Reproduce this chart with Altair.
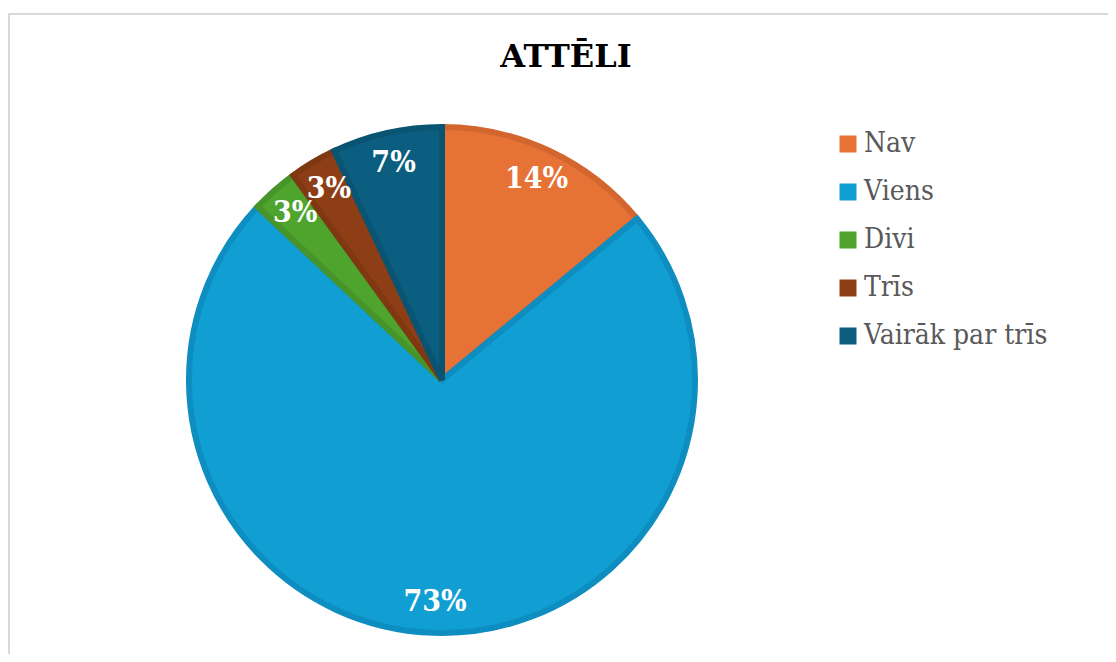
import altair as alt
import pandas as pd

categories = ["Nav", "Viens", "Divi", "Trīs", "Vairāk par trīs"]
values = [14, 73, 3, 3, 7]
labels = ["14%", "73%", "3%", "3%", "7%"]
fill_colors = ["#E67236", "#109ED3", "#4EA42D", "#8E3E14", "#0B5E80"]
stroke_colors = ["#D3662F", "#0E8DC0", "#46942A", "#803812", "#0A5473"]
title_text = "ATTĒLI"

SERIF = "DejaVu Serif"
SERIF_COND = "'DejaVu Serif Condensed', 'DejaVu Serif'"

df = pd.DataFrame({
    "kat": categories,
    "val": values,
    "lbl": labels,
    "ord": list(range(len(categories))),
    "sc": stroke_colors,
})

W, H = 1100, 646
CX, CY = 434, 372
R = 253

base = alt.Chart(df).encode(
    theta=alt.Theta("val:Q", stack=True),
    order=alt.Order("ord:Q", sort="ascending"),
)

arcs = base.mark_arc(outerRadius=R, strokeWidth=6, strokeJoin="miter").encode(
    x=alt.value(CX),
    y=alt.value(CY),
    color=alt.Color(
        "kat:N",
        scale=alt.Scale(domain=categories, range=fill_colors),
        sort=categories,
        legend=alt.Legend(
            title=None,
            orient="none",
            legendX=826,
            legendY=122,
            symbolType="square",
            symbolSize=289,
            symbolStrokeWidth=0,
            labelFont=SERIF_COND,
            labelFontSize=28,
            labelColor="#595959",
            labelOffset=2,
            labelLimit=400,
            rowPadding=20,
            padding=0,
        ),
    ),
    stroke=alt.Stroke("sc:N", scale=None),
)

texts = base.mark_text(
    radius=222,
    font=SERIF_COND,
    fontSize=30,
    fontWeight="bold",
    color="white",
    align="center",
    baseline="middle",
).encode(
    x=alt.value(CX),
    y=alt.value(CY),
    text="lbl:N",
)

title = alt.Chart(pd.DataFrame({"t": [title_text]})).mark_text(
    font=SERIF,
    fontSize=32,
    fontWeight="bold",
    color="#000000",
    align="center",
    baseline="alphabetic",
).encode(
    x=alt.value(558),
    y=alt.value(59),
    text="t:N",
)

frame_top = alt.Chart(pd.DataFrame({"a": [0]})).mark_rule(
    color="#d9d9d9", strokeWidth=2
).encode(x=alt.value(0), x2=alt.value(W), y=alt.value(6))

frame_left = alt.Chart(pd.DataFrame({"a": [0]})).mark_rule(
    color="#d9d9d9", strokeWidth=2
).encode(x=alt.value(1), y=alt.value(5), y2=alt.value(H))

chart = alt.layer(frame_top, frame_left, arcs, texts, title).properties(
    width=W,
    height=H,
    autosize=alt.AutoSizeParams(type="none"),
    padding=0,
    background="white",
).configure_view(
    stroke=None,
)

chart.save("out.html", embed_options={"renderer": "svg", "actions": False})
